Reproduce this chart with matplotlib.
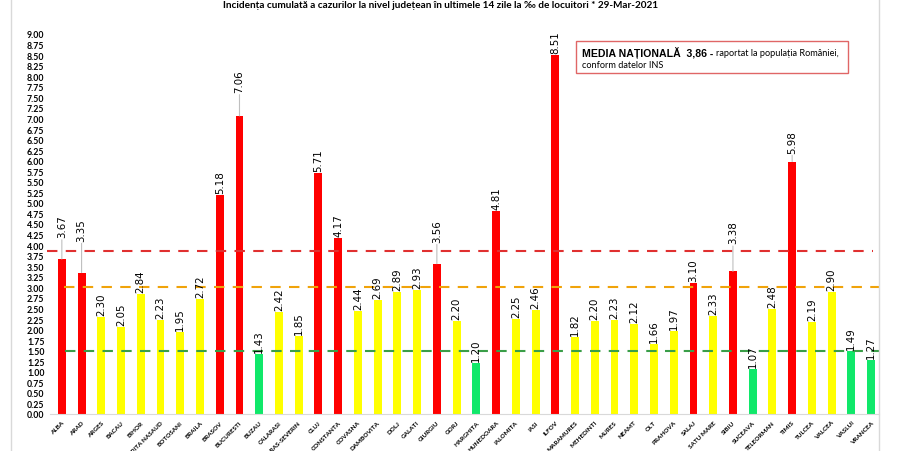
import matplotlib
matplotlib.use("Agg")
import matplotlib.pyplot as plt
from matplotlib.patches import Rectangle
from matplotlib.lines import Line2D

judete = ["ALBA", "ARAD", "ARGES", "BACAU", "BIHOR", "BISTRITA NASAUD", "BOTOSANI",
          "BRAILA", "BRASOV", "BUCURESTI", "BUZAU", "CALARASI", "CARAS-SEVERIN", "CLUJ",
          "CONSTANTA", "COVASNA", "DAMBOVITA", "DOLJ", "GALATI", "GIURGIU", "GORJ",
          "HARGHITA", "HUNEDOARA", "IALOMITA", "IASI", "ILFOV", "MARAMURES", "MEHEDINTI",
          "MURES", "NEAMT", "OLT", "PRAHOVA", "SALAJ", "SATU MARE", "SIBIU", "SUCEAVA",
          "TELEORMAN", "TIMIS", "TULCEA", "VALCEA", "VASLUI", "VRANCEA"]
incidenta = [3.67, 3.35, 2.30, 2.05, 2.84, 2.23, 1.95, 2.72, 5.18, 7.06, 1.43, 2.42,
             1.85, 5.71, 4.17, 2.44, 2.69, 2.89, 2.93, 3.56, 2.20, 1.20, 4.81, 2.25,
             2.46, 8.51, 1.82, 2.20, 2.23, 2.12, 1.66, 1.97, 3.10, 2.33, 3.38, 1.07,
             2.48, 5.98, 2.19, 2.90, 1.49, 1.27]
media_nationala = 3.86
prag_galben = 3.0
prag_verde = 1.5
data_raport = "29-Mar-2021"

# etichete ridicate cu linie de legatura (pixeli)
ridicare = {"ALBA": 22, "ARAD": 32, "BUCURESTI": 24, "GIURGIU": 22, "SIBIU": 28, "TIMIS": 9}

W, H = 912, 452


def px(x, y):
    return x / W, 1 - y / H


def culoare(v):
    if v > prag_galben:
        return "#ff0000"
    if v >= prag_verde:
        return "#ffff00"
    return "#10e86a"


fig = plt.figure(figsize=(9.12, 4.52), dpi=100)
ax = fig.add_axes([50 / W, 37 / H, 829 / W, 380 / H])

x = list(range(len(judete)))
ax.bar(x, incidenta, width=0.4, color=[culoare(v) for v in incidenta], zorder=2)

ax.set_xlim(-0.6, 41.4)
ax.set_ylim(0, 9)
ax.set_yticks([i * 0.25 for i in range(37)])
ax.set_yticklabels([f"{i * 0.25:.2f}" for i in range(37)], fontsize=6.3,
                   fontweight="bold", family="Lato")
ax.set_xticks(x)
ax.set_xticklabels(judete, rotation=45, ha="right", va="top", rotation_mode="anchor",
                   fontsize=4.6, fontweight="bold", family="Lato")
ax.tick_params(axis="both", length=0)
ax.tick_params(axis="y", pad=4)
ax.tick_params(axis="x", pad=4)
for s in ["top", "right", "left"]:
    ax.spines[s].set_visible(False)
ax.spines["bottom"].set_color("#d9d9d9")

# linii de referinta
ax.hlines(media_nationala, -0.77, 41.1, colors="#e03030", linestyles=(0, (5, 4)),
          linewidth=1.5, zorder=3, clip_on=False)
ax.hlines(prag_galben, 0.11, 41.4, colors="#f0a30a", linestyles=(0, (5, 4)),
          linewidth=1.5, zorder=3, clip_on=False)
ax.hlines(prag_verde, 0.14, 41.4, colors="#3a9e48", linestyles=(0, (5, 4)),
          linewidth=1.5, zorder=3, clip_on=False)

# valorile deasupra barelor
for xi, nume, v in zip(x, judete, incidenta):
    lift = ridicare.get(nume, 2) * 0.72
    if nume in ridicare:
        ax.annotate(f"{v:.2f}", xy=(xi, v), xytext=(0, lift), textcoords="offset points",
                    rotation=90, ha="center", va="bottom", fontsize=7.4, zorder=4,
                    arrowprops=dict(arrowstyle="-", color="#bfbfbf", lw=0.8,
                                    shrinkA=0, shrinkB=0))
    else:
        ax.annotate(f"{v:.2f}", xy=(xi, v), xytext=(0, lift), textcoords="offset points",
                    rotation=90, ha="center", va="bottom", fontsize=7.4, zorder=4)

# titlu
fig.text(*px(441, 6), "Incidența cumulată a cazurilor la nivel județean în ultimele 14 zile "
         "la ‰ de locuitori * " + data_raport, ha="center", va="center",
         fontsize=7.2, fontweight="bold", family=["Lato", "DejaVu Sans"])

# chenar cu media nationala
fig.patches.append(Rectangle(px(576, 74), 272 / W, 32 / H, transform=fig.transFigure,
                             fill=False, edgecolor="#e06666", linewidth=1.0))
t1 = fig.text(*px(582, 53), f"MEDIA NAȚIONALĂ  {media_nationala:.2f}".replace(".", ",") + " -",
              ha="left", va="center", fontsize=7.6, fontweight="bold",
              family="Liberation Sans")
fig.canvas.draw()
bb = t1.get_window_extent(fig.canvas.get_renderer())
fig.text(bb.x1 / W + 3 / W, px(0, 53)[1], "raportat la populația României,", ha="left",
         va="center", fontsize=6.6, family="Lato")
fig.text(*px(582, 66), "conform datelor INS", ha="left", va="center", fontsize=6.6,
         family="Lato")

# marginile graficului
fig.add_artist(Line2D([11 / W, 11 / W], [0, 1], transform=fig.transFigure,
                      color="#d9d9d9", linewidth=1))
fig.add_artist(Line2D([879 / W, 879 / W], [0, 1], transform=fig.transFigure,
                      color="#d9d9d9", linewidth=1))

fig.savefig("out.png", dpi=100)
